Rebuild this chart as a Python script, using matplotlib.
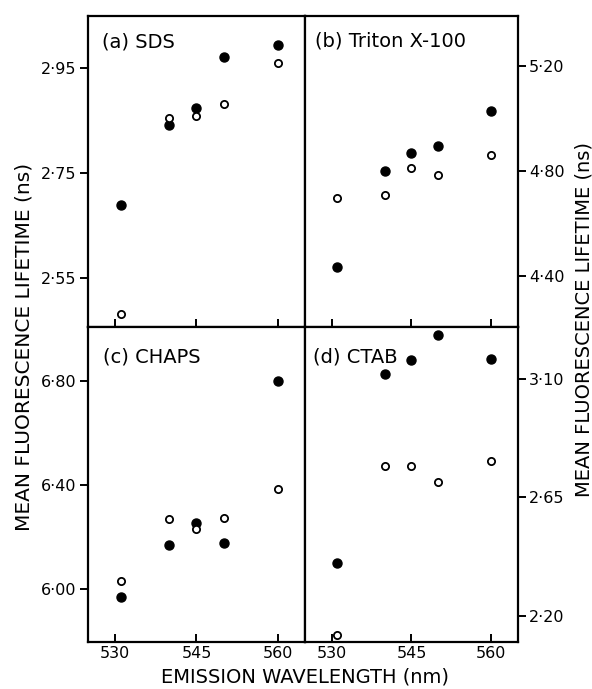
import matplotlib.pyplot as plt

# emission wavelengths (nm)
wavelength = [531, 540, 545, 550, 560]

# mean fluorescence lifetimes (ns): filled and open symbols
sds_filled = [2.690, 2.842, 2.874, 2.971, 2.994]
sds_open = [2.481, 2.855, 2.860, 2.882, 2.961]
triton_filled = [4.435, 4.799, 4.868, 4.894, 5.031]
triton_open = [4.697, 4.707, 4.811, 4.787, 4.862]
chaps_filled = [5.971, 6.168, 6.253, 6.179, 6.798]
chaps_open = [6.031, 6.268, 6.230, 6.272, 6.383]
ctab_filled = [2.401, 3.119, 3.174, 3.267, 3.176]
ctab_open = [2.128, 2.769, 2.769, 2.710, 2.790]

titles = ['(a) SDS', '(b) Triton X-100', '(c) CHAPS', '(d) CTAB']
yticks = [[2.55, 2.75, 2.95], [4.40, 4.80, 5.20], [6.00, 6.40, 6.80], [2.20, 2.65, 3.10]]
ylims = [(2.457, 3.05), (4.205, 5.392), (5.798, 7.005), (2.100, 3.298)]
xticks = [530, 545, 560]

filled = [sds_filled, triton_filled, chaps_filled, ctab_filled]
empty = [sds_open, triton_open, chaps_open, ctab_open]

fig = plt.figure(figsize=(5.92, 6.89), dpi=100)

# axes boxes: (left, bottom, width, height)
boxes = [
    (0.1486, 0.5254, 0.3666, 0.4514),
    (0.5152, 0.5254, 0.3598, 0.4514),
    (0.1486, 0.0682, 0.3666, 0.4572),
    (0.5152, 0.0682, 0.3598, 0.4572),
]
title_pos = [(0.065, 0.915), (0.047, 0.918), (0.069, 0.905), (0.038, 0.905)]

for i in range(4):
    ax = fig.add_axes(boxes[i])
    ax.plot(wavelength, filled[i], 'o', color='black', ms=6.5, zorder=3)
    ax.plot(wavelength, empty[i], 'o', mfc='white', mec='black', mew=1.3, ms=5.2, zorder=3)

    ax.set_xlim(525, 565)
    ax.set_ylim(*ylims[i])
    ax.set_xticks(xticks)
    ax.set_yticks(yticks[i])
    ax.set_yticklabels([f"{v:.2f}".replace('.', '\u00b7') for v in yticks[i]])

    for s in ax.spines.values():
        s.set_linewidth(1.6)
    ax.tick_params(axis='x', direction='in', length=6, width=1.4, labelsize=11.5, pad=3)
    ax.tick_params(axis='y', direction='out', length=6, width=1.4, labelsize=11.5, pad=2)

    if i < 2:
        ax.tick_params(axis='x', labelbottom=False)
    if i % 2 == 1:
        ax.yaxis.tick_right()
        ax.tick_params(axis='y', direction='out', length=6, width=1.4, labelsize=11.5, pad=2)

    ax.text(title_pos[i][0], title_pos[i][1], titles[i], transform=ax.transAxes,
            fontsize=14, ha='left', va='center')

fig.text(0.040, 0.496, 'MEAN FLUORESCENCE LIFETIME (ns)', rotation=90,
         ha='center', va='center', fontsize=14.5)
fig.text(0.986, 0.537, 'MEAN FLUORESCENCE LIFETIME (ns)', rotation=90,
         ha='center', va='center', fontsize=14)
fig.text(0.515, 0.003, 'EMISSION WAVELENGTH (nm)', ha='center', va='bottom', fontsize=14)

fig.savefig('out.png', dpi=100)
